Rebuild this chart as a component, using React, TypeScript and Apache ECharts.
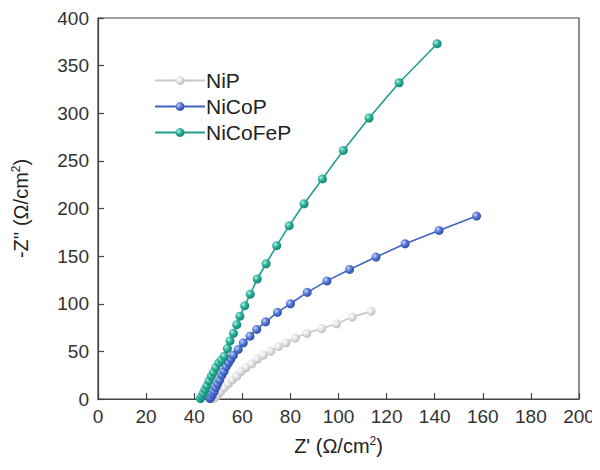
import React, { useEffect, useRef } from "react";
import * as echarts from "echarts";

const seriesNames = ["NiP", "NiCoP", "NiCoFeP"];

const nipData: number[][] = [
  [47.5, 0.5], [48.5, 1.5], [49.3, 3], [50, 5], [51, 8], [52.5, 12], [54.2, 16], [55.8, 20],
  [57.7, 24], [59.5, 29], [61.5, 33], [63.9, 37], [66.2, 42], [68.7, 46], [71.8, 50],
  [75, 55], [78.2, 59], [82, 64], [86.8, 69], [93, 74], [99.2, 79], [105.7, 86], [113.5, 92],
];

const nicopData: number[][] = [
  [46.5, 0.5], [47, 2], [47.6, 5], [48.3, 8], [49, 12], [49.8, 16], [50.6, 20], [51.5, 25],
  [52.4, 29], [53.3, 34], [54.3, 38], [55.3, 42], [56.3, 46], [58.3, 52], [60.4, 59],
  [63.2, 66], [66, 73], [69.7, 81], [74.6, 91], [80, 100], [87, 112], [95.2, 124],
  [104.6, 136], [115.6, 149], [127.7, 163], [141.8, 177], [157.4, 192],
];

const nicofepData: number[][] = [
  [42.6, 0.5], [43.2, 3], [43.8, 6], [44.5, 10], [45.3, 14], [46.2, 19], [47.1, 24], [48, 28],
  [49, 33], [50.2, 38], [51.4, 41], [52.5, 45], [53.8, 53], [54.9, 61], [56.3, 69],
  [57.7, 78], [59, 87], [61, 98], [63.3, 110], [66.2, 126], [69.9, 142], [74.3, 161],
  [79.5, 182], [85.7, 205], [93.3, 231], [102, 261], [112.7, 295], [125.2, 332], [141, 373],
];

const xTicks = { min: 0, max: 200, interval: 20 };
const yTicks = { min: 0, max: 400, interval: 50 };

const lineColors = ["#c8c8c8", "#4163c2", "#1f9e8b"];
const sphereStops = [
  ["#ffffff", "#e6e6e6", "#b9b9b9"],
  ["#c9d6ff", "#5a7ad6", "#2a48a8"],
  ["#b8f0e4", "#2cb39d", "#12806f"],
];

export default function App() {
  const ref = useRef<HTMLDivElement>(null);
  useEffect(() => {
    if (!ref.current) return;
    const chart = echarts.init(ref.current, null, { renderer: "svg" });
    const datasets = [nipData, nicopData, nicofepData];
    const font = "'Liberation Sans', Arial, sans-serif";
    const series = datasets.map((d, i) => ({
      name: seriesNames[i],
      type: "line",
      data: d,
      symbol: "circle",
      symbolSize: 9,
      z: 2 + i,
      lineStyle: { color: lineColors[i], width: 1.6 },
      itemStyle: {
        color: new echarts.graphic.RadialGradient(0.35, 0.35, 0.7, [
          { offset: 0, color: sphereStops[i][0] },
          { offset: 0.45, color: sphereStops[i][1] },
          { offset: 1, color: sphereStops[i][2] },
        ]),
        borderWidth: 0,
      },
    }));
    chart.setOption({
      animation: false,
      backgroundColor: "#ffffff",
      grid: {
        left: 98,
        top: 18,
        right: 21,
        bottom: 71,
        show: true,
        borderColor: "#444",
        borderWidth: 1.2,
        backgroundColor: "transparent",
      },
      legend: {
        orient: "vertical",
        left: 149,
        top: 65,
        itemWidth: 50,
        itemHeight: 11,
        itemGap: 5,
        data: seriesNames,
        textStyle: { fontFamily: font, fontSize: 21, color: "#222", lineHeight: 20, padding: [0, 0, 0, -4] },
      },
      xAxis: {
        type: "value",
        min: xTicks.min,
        max: xTicks.max,
        interval: xTicks.interval,
        name: "Z' (Ω/cm{sup|2})",
        nameLocation: "middle",
        nameGap: 36,
        nameTextStyle: {
          fontFamily: font,
          fontSize: 20,
          color: "#222",
          rich: { sup: { fontFamily: font, fontSize: 12, color: "#222", padding: [0, 0, 10, 0] } },
        },
        axisLine: { show: true, lineStyle: { color: "#444", width: 1.2 } },
        axisTick: { show: true, inside: true, length: 6, lineStyle: { color: "#444", width: 1.2 } },
        axisLabel: { fontFamily: font, fontSize: 19, color: "#333", margin: 8 },
        splitLine: { show: false },
      },
      yAxis: {
        type: "value",
        min: yTicks.min,
        max: yTicks.max,
        interval: yTicks.interval,
        name: "-Z'' (Ω/cm{sup|2})",
        nameLocation: "middle",
        nameGap: 66,
        nameRotate: 90,
        nameTextStyle: {
          fontFamily: font,
          fontSize: 20,
          color: "#222",
          rich: { sup: { fontFamily: font, fontSize: 12, color: "#222", padding: [0, 0, 10, 0] } },
        },
        axisLine: { show: true, lineStyle: { color: "#444", width: 1.2 } },
        axisTick: { show: true, inside: true, length: 6, lineStyle: { color: "#444", width: 1.2 } },
        axisLabel: { fontFamily: font, fontSize: 19, color: "#333", margin: 9 },
        splitLine: { show: false },
      },
      series,
    });
    return () => chart.dispose();
  }, []);
  return <div ref={ref} style={{ width: 600, height: 470, margin: -8 }} />;
}
